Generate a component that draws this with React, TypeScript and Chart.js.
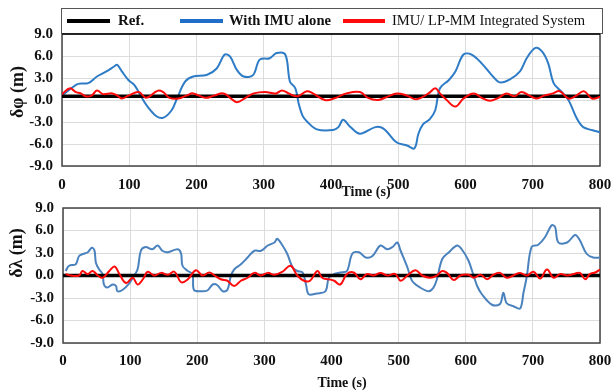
import React, { useEffect, useRef } from 'react';
import { Chart, registerables } from 'chart.js';

Chart.register(...registerables);

// ---------- data ----------
const TIME_MIN = 0;
const TIME_MAX = 800;
const TIME_STEP = 100;
const ERR_MIN = -9;
const ERR_MAX = 9;
const ERR_STEP = 3;

const legendLabels = ['Ref.', 'With IMU alone', 'IMU/ LP-MM Integrated System'];
const axisTitleTime = 'Time (s)';
const axisTitlePhi = 'δφ (m)';
const axisTitleLam = 'δλ (m)';

const refTime = [0, 800];
const phiRefVal = [0.5, 0.5];
const lamRefVal = [0, 0];

const phiImuTime = [0, 14, 24, 39, 52, 66, 78, 82, 89, 99, 108, 118, 128, 141, 151, 163, 171, 183, 195, 215, 230, 242, 250, 260, 270, 284, 294, 309, 319, 332, 339, 347, 352, 358, 365, 379, 403, 411, 418, 428, 443, 466, 478, 498, 513, 524, 530, 537, 547, 555, 562, 575, 585, 597, 609, 624, 639, 651, 666, 681, 691, 704, 714, 723, 731, 741, 753, 766, 775, 788, 800];
const phiImuVal = [0.65, 1.6, 2.2, 2.3, 3.2, 3.9, 4.6, 4.8, 3.9, 2.7, 2.0, 0.4, -1.0, -2.25, -2.4, -1.4, 0.2, 2.5, 3.2, 3.4, 4.3, 6.2, 5.9, 4.1, 3.2, 3.4, 5.5, 5.7, 6.4, 6.2, 2.5, 1.6, -0.5, -2.2, -3.0, -4.0, -4.1, -3.7, -2.7, -3.6, -4.6, -3.7, -3.9, -5.8, -6.2, -6.6, -4.6, -3.3, -2.6, -1.4, 1.6, 2.7, 3.9, 6.2, 6.2, 5.0, 3.4, 2.4, 2.8, 3.9, 5.7, 7.1, 6.6, 5.0, 2.3, 1.3, 0.0, -2.6, -3.7, -4.1, -4.4];

const phiLpTime = [0, 12, 20, 28, 35, 44, 52, 61, 75, 84, 89, 99, 114, 125, 142, 150, 160, 173, 185, 195, 213, 226, 240, 250, 260, 273, 285, 302, 318, 327, 337, 350, 364, 373, 391, 404, 423, 443, 455, 470, 485, 498, 513, 527, 545, 555, 562, 572, 585, 597, 612, 624, 636, 649, 661, 673, 683, 695, 705, 717, 730, 740, 753, 763, 776, 788, 800];
const phiLpVal = [0.8, 1.6, 1.1, 0.9, 0.5, 0.6, 1.3, 0.8, 0.9, 0.5, 0.2, 0.6, 1.1, 0.3, 1.25, 1.1, 0.3, 0.2, 0.6, 0.9, 0.3, 0.6, 0.9, 0.3, -0.3, 0.3, 0.9, 1.1, 0.9, 1.3, 0.9, 0.5, 1.2, 0.9, 0.0, 0.2, 0.9, 1.1, 0.3, 0.0, 0.5, 0.9, 0.6, 0.1, 0.9, 1.6, 0.9, 0.0, -0.9, 0.2, 0.9, 0.3, -0.1, 0.3, 0.9, 0.5, 1.1, 0.6, 0.2, 0.6, 0.9, 1.2, 0.2, 0.5, 1.2, 0.2, 0.4];

const lamImuTime = [4, 9, 19, 24, 31, 37, 43, 47, 49, 54, 59, 61, 66, 74, 79, 81, 89, 99, 104, 111, 116, 123, 133, 141, 148, 156, 171, 176, 178, 186, 193, 195, 205, 215, 223, 230, 238, 245, 250, 255, 265, 275, 285, 295, 305, 315, 319, 327, 334, 342, 349, 357, 362, 366, 378, 391, 396, 404, 413, 423, 431, 441, 451, 461, 473, 483, 491, 498, 503, 513, 520, 532, 545, 552, 557, 565, 575, 587, 594, 604, 612, 617, 624, 639, 651, 656, 661, 671, 681, 686, 691, 698, 708, 718, 728, 733, 738, 751, 763, 770, 780, 790, 800];
const lamImuVal = [0.6, 1.3, 1.5, 2.6, 2.9, 3.1, 3.7, 3.3, 1.7, 0.8, 0.2, -1.2, -1.6, -1.2, -1.4, -2.1, -1.9, -1.0, -0.3, 0.8, 3.3, 3.8, 3.5, 4.0, 3.3, 3.1, 3.5, 2.9, 1.3, 0.6, 0.2, -1.9, -2.1, -2.0, -1.2, -1.3, -2.1, -1.9, -0.1, 0.8, 1.5, 2.4, 3.3, 3.3, 4.0, 4.4, 4.9, 4.0, 2.9, 1.1, 0.6, 0.4, -1.2, -2.5, -2.4, -2.1, -0.3, 0.2, 0.4, 0.6, 2.9, 3.1, 2.4, 2.6, 4.0, 3.5, 3.8, 4.4, 3.3, 1.1, -0.7, -1.6, -2.1, -1.6, -0.5, 2.2, 3.1, 4.0, 3.5, 2.0, -0.1, -1.4, -2.5, -3.9, -3.8, -2.3, -3.7, -4.1, -4.4, -2.3, -0.1, 3.8, 4.1, 5.1, 6.7, 6.5, 4.4, 4.4, 5.4, 4.7, 2.9, 2.4, 2.4];

const lamLpTime = [4, 11, 24, 29, 37, 44, 52, 59, 69, 77, 84, 94, 104, 111, 119, 126, 136, 146, 156, 166, 176, 186, 198, 208, 218, 226, 235, 245, 255, 265, 275, 285, 295, 305, 315, 327, 339, 349, 359, 368, 379, 386, 396, 404, 413, 423, 433, 443, 453, 463, 473, 483, 495, 503, 513, 525, 535, 547, 557, 565, 572, 582, 592, 604, 612, 622, 632, 641, 651, 661, 671, 681, 691, 701, 711, 721, 731, 741, 751, 761, 770, 778, 785, 793, 800];
const lamLpVal = [0.2, 0.0, 0.0, 0.6, 0.2, 0.6, 0.0, -0.3, 0.6, 1.2, 0.2, -1.0, -0.3, -1.2, -0.5, 0.5, 0.0, 0.35, 0.1, 0.5, -0.9, -0.5, 0.7, 0.0, 0.4, 0.0, -0.5, -0.7, -1.4, -0.7, -0.3, 0.35, 0.0, 0.35, 0.1, 0.5, 1.3, 0.0, -0.7, -0.7, 0.6, -0.3, -0.5, -0.7, -1.2, 0.2, 0.4, -0.5, 0.2, 0.0, 0.35, 0.0, 0.2, -0.7, 0.0, 0.7, 0.0, -0.3, 0.0, 0.6, 0.35, -0.6, 0.0, 0.1, -0.3, 0.1, -0.5, 0.1, 0.35, -0.3, 0.0, 0.35, 0.0, 0.5, -0.4, 0.8, -0.3, 0.2, 0.0, 0.2, 0.35, -0.5, 0.2, 0.4, 0.8];

// ---------- styles ----------
const SERIF = "'Liberation Serif', 'Times New Roman', serif";
const COLOR_REF = '#000000';
const COLOR_IMU = '#2E7BC6';
const COLOR_IMU2 = '#4A82BE';
const COLOR_LP = '#FF0A0A';
const GRID = '#DCDCDC';
const FRAME = '#444444';

const pts = (t: number[], v: number[]) => t.map((x, i) => ({ x, y: v[i] }));

const framePlugin = {
  id: 'frame',
  beforeDatasetsDraw(chart: any) {
    const { ctx, chartArea: a } = chart;
    ctx.save();
    ctx.strokeStyle = FRAME;
    ctx.lineWidth = 1.5;
    ctx.strokeRect(a.left, a.top, a.right - a.left, a.bottom - a.top);
    ctx.restore();
  },
};

function textPlugin(items: { text: string; x: number; y: number; font: string; rot?: boolean; maxW?: number }[]) {
  return {
    id: 'texts',
    afterDraw(chart: any) {
      const ctx = chart.ctx;
      ctx.save();
      ctx.fillStyle = '#111';
      ctx.textAlign = 'center';
      ctx.textBaseline = 'middle';
      for (const it of items) {
        ctx.font = it.font;
        ctx.save();
        ctx.translate(it.x, it.y);
        if (it.rot) ctx.rotate(-Math.PI / 2);
        if (it.maxW) ctx.fillText(it.text, 0, 0, it.maxW);
        else ctx.fillText(it.text, 0, 0);
        ctx.restore();
      }
      ctx.restore();
    },
  };
}

const legendPlugin = {
  id: 'boxLegend',
  afterDraw(chart: any) {
    const ctx = chart.ctx;
    ctx.save();
    ctx.fillStyle = '#fff';
    ctx.fillRect(61, 8, 541, 25);
    ctx.strokeStyle = '#555';
    ctx.lineWidth = 1;
    ctx.strokeRect(61.5, 8.5, 541, 25);
    const y = 21;
    const items = [
      { color: COLOR_REF, x0: 67, x1: 110, tx: 118, text: legendLabels[0], font: `bold 15px ${SERIF}`, w: 0 },
      { color: '#1F6FC8', x0: 180, x1: 223, tx: 229, text: legendLabels[1], font: `bold 15px ${SERIF}`, w: 102 },
      { color: COLOR_LP, x0: 343, x1: 385, tx: 392, text: legendLabels[2], font: `15px ${SERIF}`, w: 193 },
    ];
    for (const it of items) {
      ctx.strokeStyle = it.color;
      ctx.lineWidth = 4;
      ctx.beginPath();
      ctx.moveTo(it.x0, y);
      ctx.lineTo(it.x1, y);
      ctx.stroke();
      ctx.fillStyle = '#111';
      ctx.font = it.font;
      ctx.textAlign = 'left';
      ctx.textBaseline = 'middle';
      if (it.w) ctx.fillText(it.text, it.tx, y, it.w);
      else ctx.fillText(it.text, it.tx, y);
    }
    const a = chart.chartArea;
    ctx.strokeStyle = '#111';
    ctx.lineWidth = 1.5;
    ctx.beginPath();
    ctx.moveTo(a.left, a.top);
    ctx.lineTo(a.right, a.top);
    ctx.stroke();
    ctx.restore();
  },
};

function makeConfig(opts: {
  ref: any[]; imu: any[]; lp: any[]; imuColor: string;
  padding: any; yWidth: number; xHeight: number; tickPad: number;
  plugins: any[];
}) {
  return {
    type: 'line',
    data: {
      datasets: [
        { label: legendLabels[0], data: opts.ref, borderColor: COLOR_REF, borderWidth: 3.5, pointRadius: 0, order: 1, tension: 0 },
        { label: legendLabels[1], data: opts.imu, borderColor: opts.imuColor, borderWidth: 2, pointRadius: 0, order: 2, tension: 0.35 },
        { label: legendLabels[2], data: opts.lp, borderColor: COLOR_LP, borderWidth: 2, pointRadius: 0, order: 0, tension: 0.4 },
      ],
    },
    options: {
      animation: false,
      responsive: true,
      maintainAspectRatio: false,
      layout: { padding: opts.padding },
      plugins: { legend: { display: false }, tooltip: { enabled: false }, title: { display: false } },
      scales: {
        x: {
          type: 'linear',
          min: TIME_MIN,
          max: TIME_MAX,
          afterFit: (s: any) => { s.height = opts.xHeight; s.paddingLeft = 0; s.paddingRight = 0; },
          ticks: { stepSize: TIME_STEP, autoSkip: false, color: '#111', font: { family: SERIF, size: 15, weight: 'bold' }, padding: opts.tickPad, maxRotation: 0 },
          grid: { color: GRID, drawTicks: false, lineWidth: 1 },
          border: { display: false },
        },
        y: {
          type: 'linear',
          min: ERR_MIN,
          max: ERR_MAX,
          afterFit: (s: any) => { s.width = opts.yWidth; s.paddingTop = 0; s.paddingBottom = 0; },
          ticks: { stepSize: ERR_STEP, autoSkip: false, color: '#111', font: { family: SERIF, size: 15, weight: 'bold' }, padding: 9, callback: (v: any) => Number(v).toFixed(1) },
          grid: { color: GRID, drawTicks: false, lineWidth: 1 },
          border: { display: false },
        },
      },
    },
    plugins: [framePlugin, ...opts.plugins],
  } as any;
}

function ChartBox({ top, height, config }: { top: number; height: number; config: any }) {
  const ref = useRef<HTMLCanvasElement>(null);
  useEffect(() => {
    const chart = new Chart(ref.current as HTMLCanvasElement, config);
    return () => chart.destroy();
  }, []);
  return (
    <div style={{ position: 'absolute', left: 0, top, width: 612, height }}>
      <canvas ref={ref} />
    </div>
  );
}

export default function App() {
  const topCfg = makeConfig({
    ref: pts(refTime, phiRefVal),
    imu: pts(phiImuTime, phiImuVal),
    lp: pts(phiLpTime, phiLpVal),
    imuColor: COLOR_IMU,
    padding: { top: 34, left: 0, right: 12, bottom: 0 },
    yWidth: 62,
    xHeight: 34,
    tickPad: 10,
    plugins: [
      legendPlugin,
      textPlugin([
        { text: axisTitleTime, x: 366, y: 192, font: `bold 14px ${SERIF}` },
        { text: axisTitlePhi, x: 18, y: 92, font: `bold 18px ${SERIF}`, rot: true },
      ]),
    ],
  });
  const botCfg = makeConfig({
    ref: pts(refTime, lamRefVal),
    imu: pts(lamImuTime, lamImuVal),
    lp: pts(lamLpTime, lamLpVal),
    imuColor: COLOR_IMU2,
    padding: { top: 8, left: 0, right: 12, bottom: 0 },
    yWidth: 63,
    xHeight: 47,
    tickPad: 9,
    plugins: [
      textPlugin([
        { text: axisTitleTime, x: 342, y: 183, font: `bold 14px ${SERIF}` },
        { text: axisTitleLam, x: 17, y: 53, font: `bold 18px ${SERIF}`, rot: true },
      ]),
    ],
  });
  return (
    <div style={{ position: 'fixed', left: 0, top: 0, width: 612, height: 390, background: '#fff' }}>
      <ChartBox top={0} height={200} config={topCfg} />
      <ChartBox top={200} height={190} config={botCfg} />
    </div>
  );
}
